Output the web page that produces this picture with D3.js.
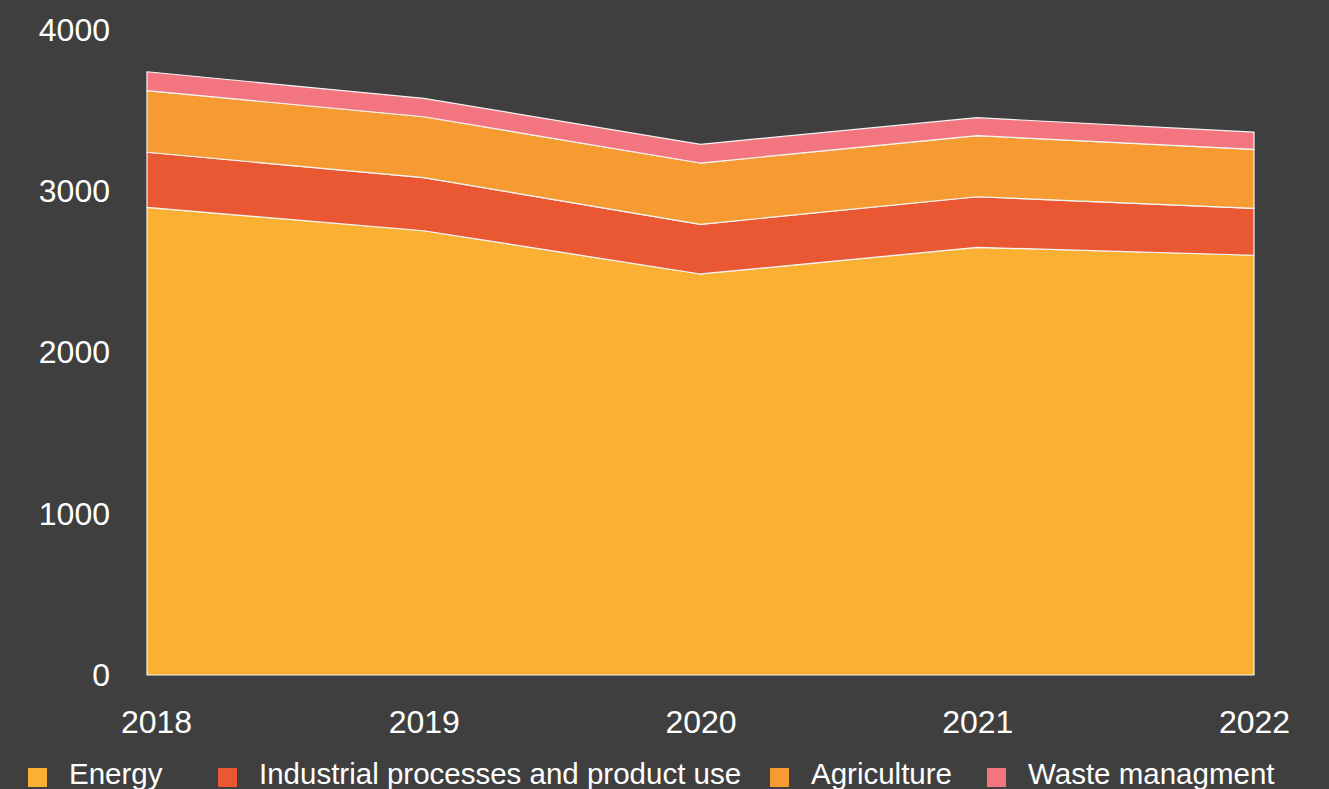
<!DOCTYPE html>
<html>
<head>
<meta charset="utf-8">
<script src="https://cdn.jsdelivr.net/npm/d3@7"></script>
<style>
  html, body { margin: 0; padding: 0; background: #3f3f3f; }
  svg { display: block; }
  text { font-family: "Liberation Sans", Arial, Helvetica, sans-serif; fill: #fff; }
</style>
</head>
<body>
<div id="chart"></div>
<script>

// data
var years = ["2018", "2019", "2020", "2021", "2022"];
var seriesNames = ["Energy", "Industrial processes and product use", "Agriculture", "Waste managment"];
var energy = [2900, 2755, 2487, 2652, 2603];
var industrial = [342, 329, 308, 314, 291];
var agriculture = [382, 378, 380, 379, 366];
var waste = [117, 114, 116, 111, 107];
var yTicks = [0, 1000, 2000, 3000, 4000];

var colors = ["#fab133", "#e95733", "#f69b32", "#f27580"];

var width = 1329,
    height = 789;

var margin = { top: 30, right: 75, bottom: 114, left: 147 };

var innerW = width - margin.left - margin.right,
    innerH = height - margin.top - margin.bottom;

var svg = d3.select("#chart")
    .append("svg")
    .attr("width", width)
    .attr("height", height)
    .style("background", "#3f3f3f");

var g = svg.append("g")
    .attr("transform", "translate(" + margin.left + "," + margin.top + ")");

// build rows for the stack
var rows = years.map(function (y, i) {
    return {
        year: y,
        "Energy": energy[i],
        "Industrial processes and product use": industrial[i],
        "Agriculture": agriculture[i],
        "Waste managment": waste[i]
    };
});

var stack = d3.stack().keys(seriesNames);
var layers = stack(rows);

var x = d3.scalePoint().domain(years).range([0, innerW]);
var y = d3.scaleLinear().domain([0, 4000]).range([innerH, 0]);

var color = d3.scaleOrdinal().domain(seriesNames).range(colors);

var area = d3.area()
    .x(function (d) { return x(d.data.year); })
    .y0(function (d) { return y(d[0]); })
    .y1(function (d) { return y(d[1]); });

g.selectAll(".layer")
    .data(layers)
    .enter()
    .append("path")
    .attr("class", "layer")
    .attr("d", area)
    .style("fill", function (d) { return color(d.key); })
    .style("stroke", "#f4f4f4")
    .style("stroke-width", 1.2)
    .style("stroke-linejoin", "round");

// axes (no lines, just labels)
var yAxis = g.append("g")
    .attr("class", "axis axis-y")
    .call(d3.axisLeft(y).tickValues(yTicks).tickSize(0).tickPadding(37).tickFormat(d3.format("d")));

yAxis.select(".domain").remove();
yAxis.selectAll("text")
    .style("font-size", "32px")
    .style("fill", "#fff");

var xAxis = g.append("g")
    .attr("class", "axis axis-x")
    .attr("transform", "translate(0," + innerH + ")")
    .call(d3.axisBottom(x).tickSize(0).tickPadding(35));

xAxis.select(".domain").remove();
xAxis.selectAll("text")
    .style("font-size", "32px")
    .style("fill", "#fff")
    .attr("dx", function (d, i) { return i === 0 ? 9 : 0; });

// legend
var legendX = [28, 218, 770, 987];
var legend = svg.append("g")
    .attr("class", "legend")
    .attr("transform", "translate(0," + 768 + ")");

var item = legend.selectAll(".item")
    .data(seriesNames)
    .enter()
    .append("g")
    .attr("class", "item")
    .attr("transform", function (d, i) { return "translate(" + legendX[i] + ",0)"; });

item.append("rect")
    .attr("width", 19)
    .attr("height", 19)
    .style("fill", function (d) { return color(d); });

item.append("text")
    .text(function (d) { return d; })
    .attr("x", 41)
    .attr("y", 16)
    .style("font-size", "29.5px");

</script>
</body>
</html>
